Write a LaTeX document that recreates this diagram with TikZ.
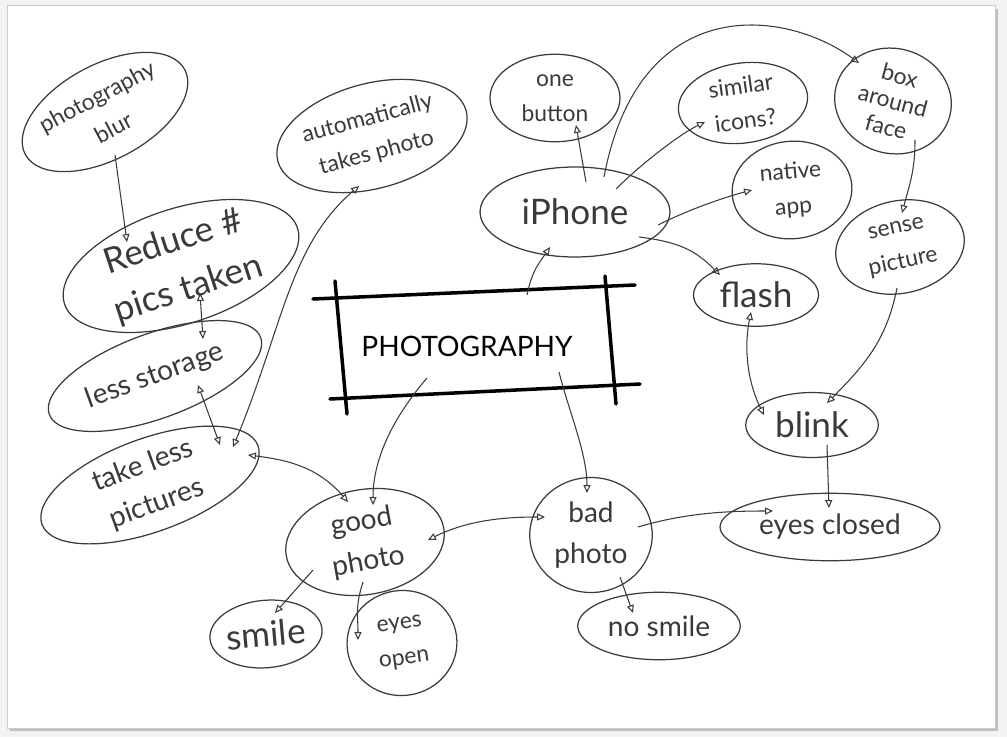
\documentclass[tikz,border=0pt]{standalone}
\usepackage{fontspec}
\setmainfont{Lato}
\usetikzlibrary{shapes.geometric,arrows.meta,calc}
\definecolor{ink}{HTML}{3A3A3A}
\definecolor{sheet}{HTML}{F2F2F2}

\begin{document}
\begin{tikzpicture}[x=0.02cm, y=-0.02cm,
    idea/.style={ellipse, draw=ink, line width=0.7pt, inner sep=0pt, text=ink, align=center},
    small/.style={font=\fontsize{13}{20}\selectfont},
    medium/.style={font=\fontsize{16}{23}\selectfont},
    large/.style={font=\fontsize{20}{28}\selectfont},
    link/.style={draw=ink, line width=0.6pt, -{Triangle[open, length=4.5pt, width=4pt]}},
    both/.style={link, {Triangle[open, length=4.5pt, width=4pt]}-{Triangle[open, length=4.5pt, width=4pt]}},
    pen/.style={draw=black, line width=2pt, line cap=round}
  ]
  % page
  \fill[sheet] (0,0) rectangle (1007,737);
  \useasboundingbox (0,0) rectangle (1007,737);
  \fill[black!25] (10,9) rectangle (998,731);
  \fill[white, draw=black!20] (7,5) rectangle (995,728);

  % left branch
  \node[idea, small, rotate=28, minimum width=3.5cm, minimum height=1.9cm] (blur) at (105,112) {photography\\blur};
  \node[idea, large, rotate=18, minimum width=4.9cm, minimum height=2.3cm] (reduce) at (181,266) {Reduce \#\\pics taken};
  \node[idea, small, rotate=15, minimum width=3.9cm, minimum height=2.1cm] (auto) at (372,136) {automatically\\takes photo};
  \node[idea, medium, rotate=20, minimum width=4.5cm, minimum height=1.7cm] (storage) at (155,376) {less storage};
  \node[idea, medium, rotate=20, minimum width=4.6cm, minimum height=1.85cm] (takeless) at (150,485) {take less\\pictures};

  % centre
  \node[font=\fontsize{16}{18}\selectfont, text=black] (photo) at (467,346) {PHOTOGRAPHY};
  \draw[pen] ($(photo)+(-154,-47)$) -- ($(photo)+(168,-61)$);
  \draw[pen] ($(photo)+(-132,-65)$) -- ($(photo)+(-120,68)$);
  \draw[pen] ($(photo)+(-137,53)$) -- ($(photo)+(173,38)$);
  \draw[pen] ($(photo)+(138,-70)$) -- ($(photo)+(149,58)$);

  % bottom
  \node[idea, medium, rotate=10, minimum width=3.2cm, minimum height=2.1cm] (good) at (365,542) {good\\photo};
  \node[idea, large, rotate=5, minimum width=2.25cm, minimum height=1.35cm] (smile) at (266,634) {smile};
  \node[idea, small, rotate=8, minimum width=2.2cm, minimum height=2.1cm] (open) at (402,643) {eyes\\open};
  \node[idea, medium, minimum width=2.45cm, minimum height=2.3cm] (bad) at (591,535) {bad\\photo};
  \node[idea, medium, minimum width=3.25cm, minimum height=1.35cm] (nosmile) at (659,626) {no smile};
  \node[idea, medium, minimum width=4.4cm, minimum height=1.35cm] (closed) at (830,527) {eyes closed};
  \node[idea, large, minimum width=2.65cm, minimum height=1.3cm] (blink) at (812,425) {blink};

  % right branch
  \node[idea, large, minimum width=2.5cm, minimum height=1.25cm] (flash) at (756,295) {flash};
  \node[idea, large, minimum width=3.8cm, minimum height=1.8cm] (iphone) at (575,212) {iPhone};
  \node[idea, small, minimum width=2.6cm, minimum height=1.75cm] (button) at (555,98) {one\\button};
  \node[idea, small, rotate=8, minimum width=2.6cm, minimum height=1.6cm] (icons) at (743,103) {similar\\icons?};
  \node[idea, small, rotate=5, minimum width=2.4cm, minimum height=1.95cm] (native) at (792,190) {native\\app};
  \node[idea, small, rotate=-15, minimum width=2.35cm, minimum height=2.1cm, font=\fontsize{13}{15}\selectfont] (face) at (893,101) {box\\around\\face};
  \node[idea, small, rotate=12, minimum width=2.6cm, minimum height=1.85cm] (sense) at (900,247) {sense\\picture};

  % connectors
  \draw[link] ($(blur)+(10,43)$) -- ($(reduce)+(-54,-24)$);
  \draw[both] ($(reduce)+(19,27)$) -- ($(storage)+(48,-37)$);
  \draw[both] ($(storage)+(43,9)$) -- ($(takeless)+(70,-40)$);
  \draw[both] ($(auto)+(-13,50)$) .. controls +(-70,60) and +(50,-120) .. ($(takeless)+(83,-38)$);
  \draw[both] ($(takeless)+(98,-30)$) .. controls +(40,5) and +(-30,-35) .. ($(good)+(-17,-40)$);
  \draw[link] ($(photo)+(-40,32)$) .. controls +(-30,35) and +(0,-50) .. ($(good)+(8,-37)$);
  \draw[link] ($(photo)+(92,26)$) .. controls +(10,40) and +(0,-40) .. ($(bad)+(-4,-42)$);
  \draw[link] ($(photo)+(60,-51)$) .. controls +(5,-25) and +(-10,15) .. ($(iphone)+(-25,35)$);
  \draw[both] ($(good)+(63,-2)$) .. controls +(40,-20) and +(-40,0) .. ($(bad)+(-46,-18)$);
  \draw[link] ($(good)+(-52,28)$) -- ($(smile)+(9,-21)$);
  \draw[link] ($(good)+(-2,40)$) .. controls +(-8,25) and +(0,-25) .. ($(open)+(-44,-3)$);
  \draw[link] ($(bad)+(29,42)$) -- ($(nosmile)+(-26,-13)$);
  \draw[link] ($(bad)+(47,-8)$) .. controls +(50,-15) and +(-40,0) .. ($(closed)+(-57,-16)$);
  \draw[link] ($(blink)+(15,20)$) -- ($(closed)+(-1,-19)$);
  \draw[both] ($(flash)+(-5,17)$) .. controls +(-8,40) and +(-15,-30) .. ($(blink)+(-48,-10)$);
  \draw[link] ($(sense)+(-3,41)$) .. controls +(-10,50) and +(40,-40) .. ($(blink)+(15,-22)$);
  \draw[link] ($(face)+(22,39)$) .. controls +(0,30) and +(8,-30) .. ($(sense)+(2,-34)$);
  \draw[link] ($(iphone)+(11,-30)$) -- ($(button)+(21,27)$);
  \draw[link] ($(iphone)+(41,-23)$) .. controls +(25,-25) and +(-25,12) .. ($(icons)+(-38,19)$);
  \draw[link] ($(iphone)+(83,13)$) .. controls +(30,-15) and +(-30,8) .. ($(native)+(-40,0)$);
  \draw[link] ($(iphone)+(64,25)$) .. controls +(40,5) and +(-25,-25) .. ($(flash)+(-36,-20)$);
  \draw[link] ($(iphone)+(29,-35)$) .. controls +(35,-185) and +(-75,-55) .. ($(face)+(-34,-38)$);
\end{tikzpicture}
\end{document}
